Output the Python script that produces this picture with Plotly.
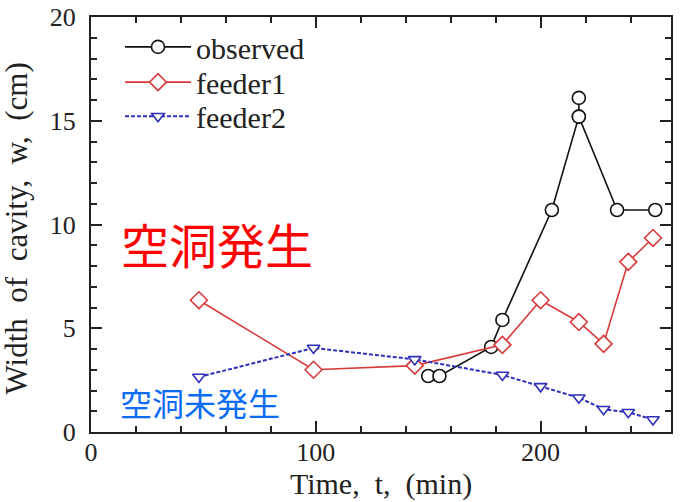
import plotly.graph_objects as go

# observed path: rises to the 16.1 peak and comes back through 15.2
obs_t = [150, 155, 178, 183, 205, 217, 217, 217, 234, 251]
obs_w = [2.7, 2.7, 4.1, 5.4, 10.7, 15.2, 16.1, 15.2, 10.7, 10.7]

f1_t = [48, 99, 144, 183, 200, 217, 228, 239, 250]
f1_w = [6.35, 3.0, 3.2, 4.2, 6.35, 5.3, 4.25, 8.2, 9.35]

f2_t = [48, 99, 144, 183, 200, 217, 228, 239, 250]
f2_w = [2.65, 4.05, 3.5, 2.75, 2.2, 1.65, 1.1, 0.95, 0.6]

serif = "Liberation Serif"
cjk = "Noto Sans CJK JP"

fig = go.Figure()
fig.add_trace(go.Scatter(
    x=obs_t, y=obs_w, mode="lines+markers", name="observed", legend="legend",
    line=dict(color="#111111", width=1.6),
    marker=dict(symbol="circle", size=13, color="white",
                line=dict(color="#111111", width=1.6)),
))
fig.add_trace(go.Scatter(
    x=f1_t, y=f1_w, mode="lines+markers", name="feeder1", legend="legend2",
    line=dict(color="#d83a3a", width=1.6),
    marker=dict(symbol="diamond", size=13, color="white",
                line=dict(color="#d83a3a", width=1.6)),
))
fig.add_trace(go.Scatter(
    x=f2_t, y=f2_w, mode="lines+markers", name="feeder2", legend="legend3",
    line=dict(color="#2f2fb8", width=2, dash="4px,2px"),
    marker=dict(symbol="triangle-down", size=11, color="white",
                line=dict(color="#2f2fb8", width=1.6)),
))

fig.add_annotation(x=12.5, y=9.1, xref="x", yref="y", text="空洞発生",
                   showarrow=False, xanchor="left", yanchor="middle",
                   font=dict(family=cjk, size=48, color="#ff0000"))
fig.add_annotation(x=12.1, y=1.45, xref="x", yref="y", text="空洞未発生",
                   showarrow=False, xanchor="left", yanchor="middle",
                   font=dict(family=cjk, size=32, color="#0a6cf5"))
# y-axis title
fig.add_annotation(x=-0.128, y=0.49, xref="paper", yref="paper",
                   text="Width\u00a0 of\u00a0 cavity,\u00a0 w,\u00a0 (cm)",
                   textangle=-90, showarrow=False, xanchor="center", yanchor="middle",
                   font=dict(family=serif, size=31, color="#222222"))

axis_common = dict(
    showgrid=False, zeroline=False, showline=True, linecolor="#222222",
    linewidth=2, mirror="ticks", ticks="inside", tickcolor="#222222",
    tickwidth=2, ticklen=11, automargin=False,
    tickfont=dict(family=serif, size=26, color="#222222"),
)

leg_common = dict(x=0.05, xanchor="left", yanchor="middle",
                  bgcolor="rgba(0,0,0,0)",
                  font=dict(family=serif, size=30, color="#222222"),
                  itemwidth=66)

fig.update_layout(
    width=683, height=502,
    margin=dict(l=91, r=12, t=17, b=70),
    paper_bgcolor="white", plot_bgcolor="white",
    showlegend=True,
    legend=dict(y=0.928, **leg_common),
    legend2=dict(y=0.843, **leg_common),
    legend3=dict(y=0.761, **leg_common),
    xaxis=dict(
        range=[0, 258], dtick=100, tick0=0,
        minor=dict(dtick=20, ticklen=6, tickwidth=2, tickcolor="#222222", ticks="inside"),
        title=dict(text="Time,\u00a0 t,\u00a0 (min)", font=dict(family=serif, size=30, color="#222222"), standoff=0),
        ticklabelstandoff=-4,
        **axis_common,
    ),
    yaxis=dict(
        range=[0, 20], dtick=5, tick0=0,
        minor=dict(dtick=1, ticklen=6, tickwidth=2, tickcolor="#222222", ticks="inside"),
        ticklabelstandoff=8,
        **axis_common,
    ),
)

fig.write_html("out.html", config={"displayModeBar": False},
               post_script="document.body.style.margin='0';document.body.style.padding='0';")
